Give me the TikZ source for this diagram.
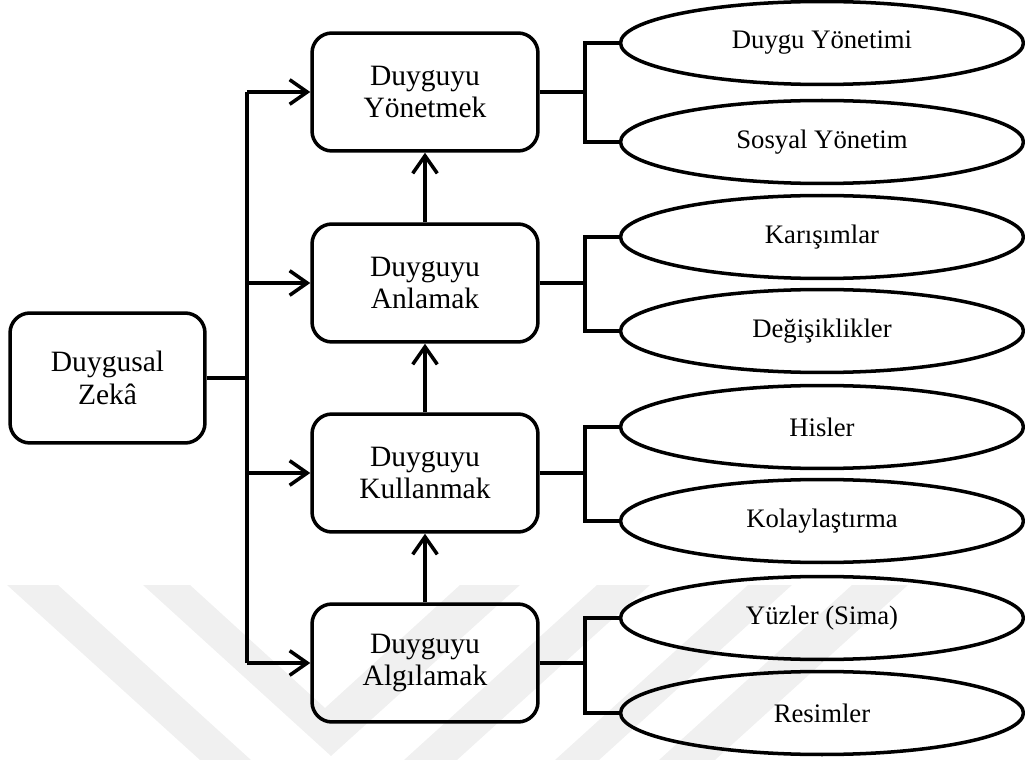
\documentclass[tikz,border=0pt]{standalone}
\usepackage{fontspec}
\setmainfont{Liberation Serif}
\definecolor{markgray}{RGB}{240, 240, 240}
\usepackage{tikz}
\usetikzlibrary{shapes.geometric, arrows.meta, calc}

\begin{document}
\begin{tikzpicture}[x=0.02cm, y=-0.02cm, line width=2pt,
    mainbox/.style={draw, rounded corners=0.4cm, minimum width=3.9cm, minimum height=2.6cm, align=center, font=\fontsize{16.8}{18.4}\selectfont},
    skillbox/.style={draw, rounded corners=0.4cm, minimum width=4.52cm, minimum height=2.36cm, align=center, font=\fontsize{16.8}{18.4}\selectfont},
    branch/.style={draw, ellipse, inner sep=0pt, minimum width=8.06cm, minimum height=1.66cm, font=\fontsize{15.2}{18}\selectfont},
    arr/.style={-{Straight Barb[length=10pt, width=14pt]}}]
  \useasboundingbox (0,0) rectangle (1025,760);

  % faint watermark in the background
  \fill[markgray] (7,585) -- (58,585) -- (251,760) -- (200,760) -- cycle;
  \fill[markgray] (143,585) -- (190,585) -- (325,708) -- (460,585) -- (520,585) -- (331,756) -- cycle;
  \fill[markgray] (597,585) -- (650,585) -- (457,760) -- (404,760) -- cycle;
  \fill[markgray] (748,585) -- (792,585) -- (599,760) -- (555,760) -- cycle;
  \fill[markgray] (852,585) -- (908,585) -- (715,760) -- (659,760) -- cycle;

  % Main concept
  \node[mainbox] (zeka) at (107.5, 378) {Duygusal\\Zekâ};

  % Four branches
  \node[skillbox] (yonet) at (425, 92) {Duyguyu\\Yönetmek};
  \node[skillbox] (anla) at (425, 283) {Duyguyu\\Anlamak};
  \node[skillbox] (kullan) at (425, 473) {Duyguyu\\Kullanmak};
  \node[skillbox] (algila) at (425, 663) {Duyguyu\\Algılamak};

  % Sub items
  \node[branch] (dyon) at (822, 43) {Duygu Yönetimi};
  \node[branch] (syon) at (822, 142) {Sosyal Yönetim};
  \node[branch] (kar) at (822, 237) {Karışımlar};
  \node[branch] (deg) at (822, 331) {Değişiklikler};
  \node[branch] (his) at (822, 427) {Hisler};
  \node[branch] (kol) at (822, 521) {Kolaylaştırma};
  \node[branch] (yuz) at (822, 618) {Yüzler (Sima)};
  \node[branch] (res) at (822, 713) {Resimler};

  % Trunk from the main box
  \coordinate (trunk) at (247, 378);
  \draw (zeka.east) -- (trunk);
  \draw (trunk |- yonet) -- (trunk |- algila);
  \draw[arr] (trunk |- yonet) -- (yonet.west);
  \draw[arr] (trunk |- anla) -- (anla.west);
  \draw[arr] (trunk |- kullan) -- (kullan.west);
  \draw[arr] (trunk |- algila) -- (algila.west);

  % Upward chain
  \draw[arr] (algila.north) -- (kullan.south);
  \draw[arr] (kullan.north) -- (anla.south);
  \draw[arr] (anla.north) -- (yonet.south);

  % Forks to the ellipses
  \coordinate (fork) at (585, 0);
  \draw (yonet.east) -- (fork |- yonet);
  \draw (dyon.west) -| (fork |- yonet) |- (syon.west);
  \draw (anla.east) -- (fork |- anla);
  \draw (kar.west) -| (fork |- anla) |- (deg.west);
  \draw (kullan.east) -- (fork |- kullan);
  \draw (his.west) -| (fork |- kullan) |- (kol.west);
  \draw (algila.east) -- (fork |- algila);
  \draw (yuz.west) -| (fork |- algila) |- (res.west);
\end{tikzpicture}
\end{document}
